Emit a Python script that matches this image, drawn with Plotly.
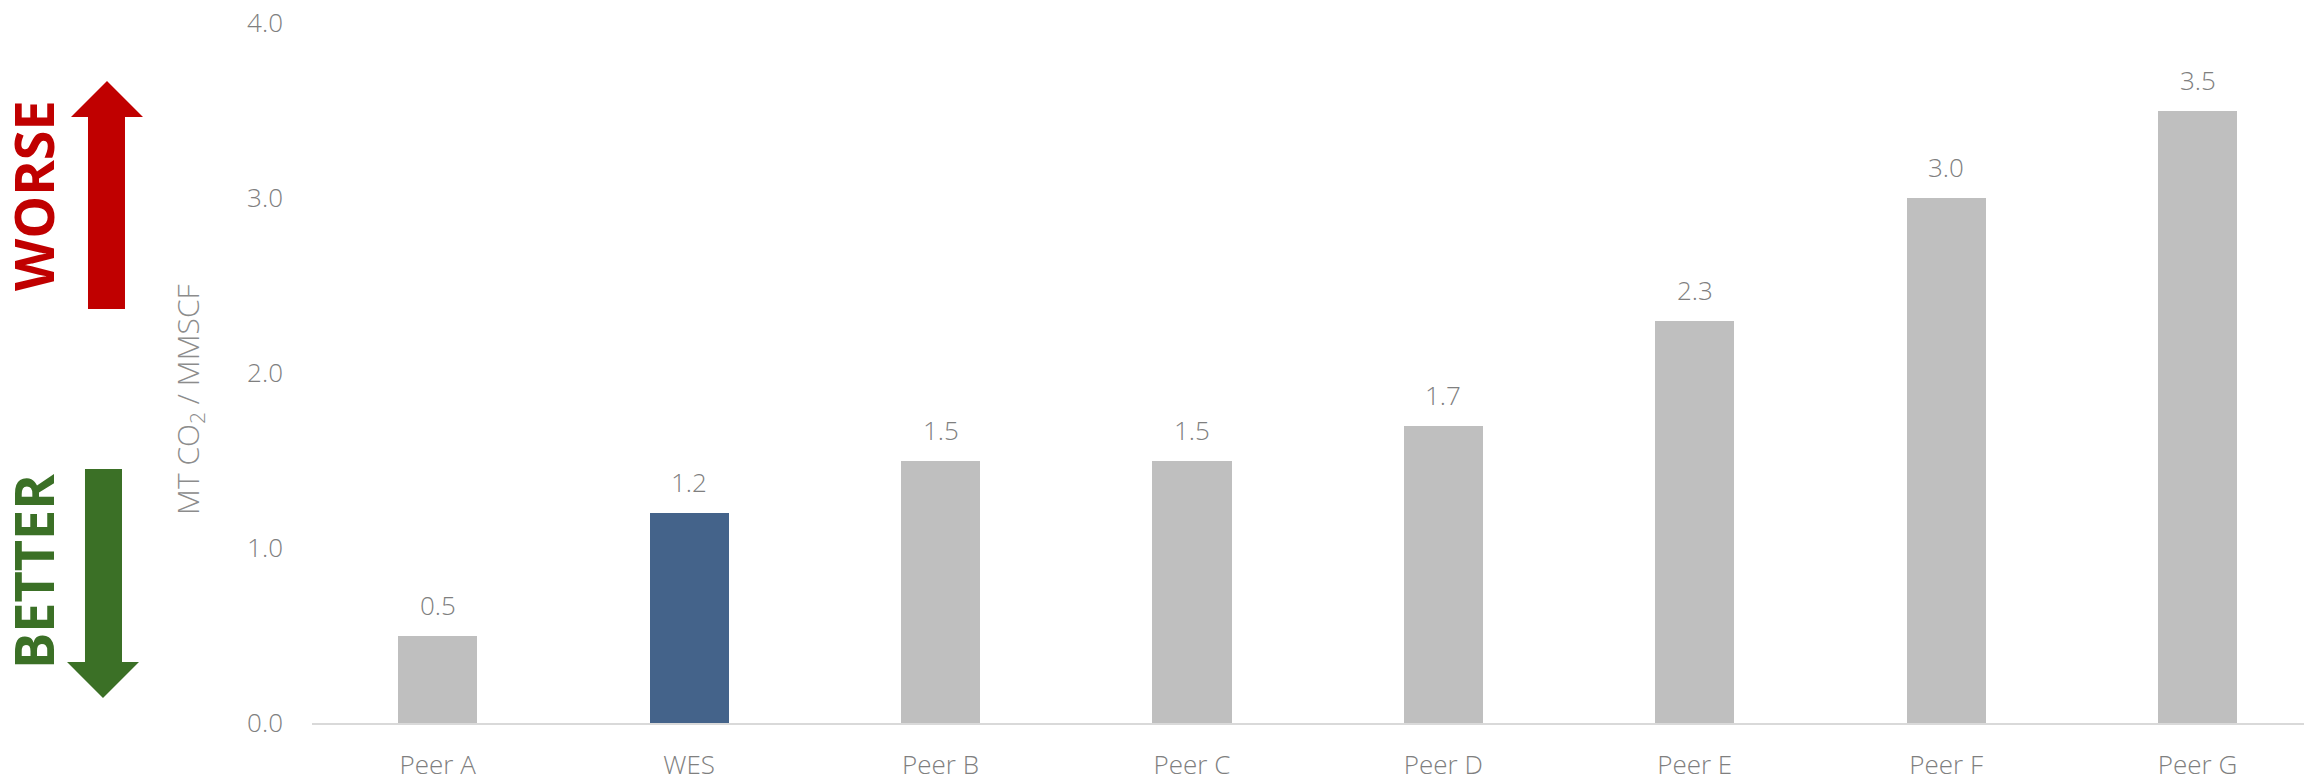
import plotly.graph_objects as go

# Emission intensity by company (MT CO2 per MMSCF)
companies = ["Peer A", "WES", "Peer B", "Peer C", "Peer D", "Peer E", "Peer F", "Peer G"]
intensity = [0.5, 1.2, 1.5, 1.5, 1.7, 2.3, 3.0, 3.5]
highlight = "WES"
y_ticks = [0.0, 1.0, 2.0, 3.0, 4.0]

W, H = 2304, 779
ML, MR, MT, MB = 312, 0, 23, 56

GREY_BAR = "#bfbfbf"
BLUE_BAR = "#44638a"
TEXT_GREY = "#7f7f7f"
RED = "#c00000"
GREEN = "#3b7026"
FONT = "Open Sans"

bar_colors = [BLUE_BAR if c == highlight else GREY_BAR for c in companies]
x_idx = list(range(len(companies)))

fig = go.Figure()
fig.add_trace(go.Bar(
    x=x_idx, y=intensity, width=0.315,
    marker=dict(color=bar_colors, line=dict(width=0)),
    hoverinfo="skip",
))

# value labels above each bar
for i, v in zip(x_idx, intensity):
    fig.add_annotation(
        x=i, y=v, text=f"{v:.1f}", showarrow=False,
        xref="x", yref="y", yanchor="bottom", yshift=11,
        font=dict(family=FONT, size=26, color=TEXT_GREY, weight=300),
    )

# helpers to place decorations by pixel position
pw = W - ML - MR
ph = H - MT - MB


def px(xp):
    return (xp - ML) / pw


def py(yp):
    return (H - MB - yp) / ph


def path(points):
    return "M " + " L ".join(f"{px(a):.5f},{py(b):.5f}" for a, b in points) + " Z"


up_arrow = [(107, 81), (143, 117), (125, 117), (125, 309), (88, 309), (88, 117), (71, 117)]
down_arrow = [(85, 469), (122, 469), (122, 662), (139, 662), (103, 698), (67, 662), (85, 662)]

fig.add_shape(type="path", path=path(up_arrow), xref="paper", yref="paper",
              fillcolor=RED, line=dict(width=0), layer="above")
fig.add_shape(type="path", path=path(down_arrow), xref="paper", yref="paper",
              fillcolor=GREEN, line=dict(width=0), layer="above")

fig.add_annotation(x=px(33), y=py(196), xref="paper", yref="paper", text="<b>WORSE</b>",
                   textangle=-90, showarrow=False, xanchor="center", yanchor="middle",
                   font=dict(family=FONT, size=54, color=RED))
fig.add_annotation(x=px(33), y=py(572), xref="paper", yref="paper", text="<b>BETTER</b>",
                   textangle=-90, showarrow=False, xanchor="center", yanchor="middle",
                   font=dict(family=FONT, size=54, color=GREEN))

# y-axis title
fig.add_annotation(x=px(189), y=py(400), xref="paper", yref="paper",
                   text="MT CO<sub>2</sub> / MMSCF", textangle=-90, showarrow=False,
                   xanchor="center", yanchor="middle",
                   font=dict(family=FONT, size=30, color="#8c8c8c", weight=300))

right_end = -0.5 + pw / 251.4

fig.update_layout(
    width=W, height=H,
    margin=dict(l=ML, r=MR, t=MT, b=MB, autoexpand=False),
    plot_bgcolor="white", paper_bgcolor="white",
    showlegend=False,
    bargap=0,
    xaxis=dict(
        range=[-0.5, right_end], tickmode="array", tickvals=x_idx, ticktext=companies,
        showgrid=False, zeroline=False, showline=True, linecolor="#d9d9d9", linewidth=2,
        ticks="", ticklabelstandoff=18,
        tickfont=dict(family=FONT, size=26, color=TEXT_GREY, weight=300), fixedrange=True,
    ),
    yaxis=dict(
        range=[0, 4], tickmode="array", tickvals=y_ticks,
        ticktext=[f"{t:.1f}" for t in y_ticks],
        showgrid=False, zeroline=False, showline=False, ticks="",
        ticklabelstandoff=28,
        tickfont=dict(family=FONT, size=26, color=TEXT_GREY, weight=300), fixedrange=True,
    ),
)

fig.write_html("out.html")
